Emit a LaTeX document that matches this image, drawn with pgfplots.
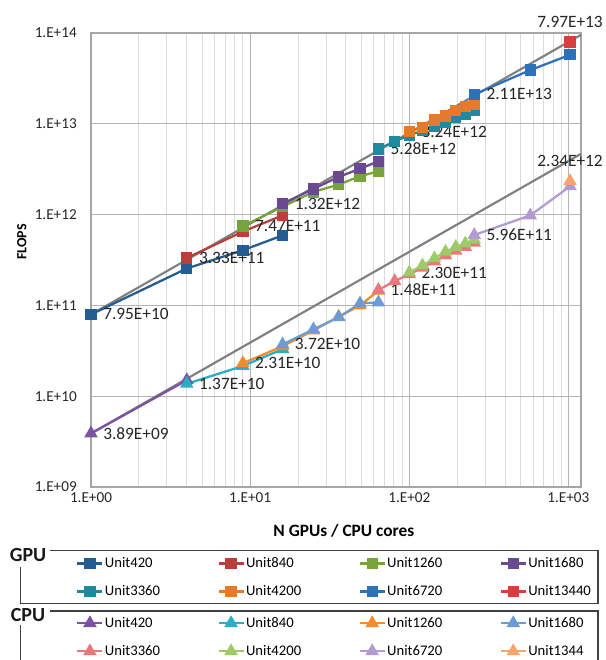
\documentclass[border=0pt]{standalone}
\usepackage{fontspec}
\setmainfont{Carlito}
\usepackage{pgfplots}
\pgfplotsset{compat=1.18}

\definecolor{gA}{HTML}{245D92}
\definecolor{gB}{HTML}{B7403C}
\definecolor{gC}{HTML}{76A33C}
\definecolor{gD}{HTML}{69498F}
\definecolor{gE}{HTML}{1F8A9E}
\definecolor{gF}{HTML}{E57A2B}
\definecolor{gG}{HTML}{2D72B8}
\definecolor{gH}{HTML}{D5403F}
\definecolor{cA}{HTML}{7B52A6}
\definecolor{cB}{HTML}{29AFC5}
\definecolor{cC}{HTML}{F38A2E}
\definecolor{cD}{HTML}{6B9CD3}
\definecolor{cE}{HTML}{E7797A}
\definecolor{cF}{HTML}{9CCB67}
\definecolor{cG}{HTML}{B29BD0}
\definecolor{cH}{HTML}{F9A36F}
\definecolor{gridmaj}{HTML}{B4B4B4}
\definecolor{gridmin}{HTML}{DCDCDC}
\definecolor{axisc}{HTML}{A6A6A6}
\definecolor{framec}{HTML}{404040}
\definecolor{ideal}{HTML}{7F7F7F}

\pgfplotsset{
  gpu/.style={line width=1.7pt, mark=square*, mark size=3.4pt, mark options={solid}},
  cpu/.style={line width=1.7pt, mark=triangle*, mark size=4.2pt, mark options={solid}},
  mylegend/.style={
    legend columns=4,
    legend cell align=left,
    legend style={draw=none, fill=none, inner sep=0pt, row sep=12pt,
      font=\fontsize{11}{14}\selectfont,
      nodes={inner sep=0pt},
      /tikz/every odd column/.append style={column sep=1pt},
      /tikz/every even column/.append style={column sep=43pt}},
    legend image code/.code={\draw[mark repeat=2,mark phase=2] plot coordinates {(0pt,0pt) (9.4pt,0pt) (18.8pt,0pt)};},
  },
  frame/.style={at={(0,0)}, anchor=south west, scale only axis, width=367.5pt, height=340.5pt},
}

\begin{document}
\begin{tikzpicture}[
  lab/.style={font=\fontsize{13}{15}\selectfont, text=black!85, anchor=west, inner sep=0pt, xshift=9pt},
  labup/.style={font=\fontsize{13}{15}\selectfont, text=black!85, anchor=south, inner sep=0pt, yshift=10.5pt}]
\begin{axis}[frame, name=main,
  xmode=log, ymode=log, xmin=1, xmax=1200, ymin=1e9, ymax=1e14,
  xtick={1,10,100,1000}, xticklabels={1.E+00,1.E+01,1.E+02,1.E+03},
  ytick={1e9,1e10,1e11,1e12,1e13,1e14},
  yticklabels={1.E+09,1.E+10,1.E+11,1.E+12,1.E+13,1.E+14},
  minor xtick={2,3,4,5,6,7,8,9,20,30,40,50,60,70,80,90,200,300,400,500,600,700,800,900},
  minor ytick={},
  xmajorgrids, xminorgrids, ymajorgrids,
  major grid style={gridmaj, line width=0.8pt},
  minor grid style={gridmin, line width=0.7pt},
  axis line style={axisc, line width=0.9pt},
  major tick length=0pt, minor tick length=0pt,
  ticklabel style={font=\fontsize{11.4}{13}\selectfont, text=black!85},
  xticklabel style={inner sep=0pt, yshift=-4pt, anchor=north},
  yticklabel style={inner sep=0pt, xshift=-10.5pt, anchor=east},
  xlabel={N GPUs / CPU cores}, ylabel={FLOPS},
  xlabel style={font=\bfseries\fontsize{13}{15}\selectfont, at={(axis description cs:0.516,-0.097)}, anchor=center},
  ylabel style={font=\bfseries\fontsize{10.5}{12}\selectfont, at={(axis description cs:-0.141,0.54)}, anchor=center},
  clip=false,
  mylegend,
  legend style={at={(-0.0306,-0.1993)}, anchor=west},
]
% ideal lines
\addplot[ideal, line width=1.6pt, forget plot] coordinates {(1,7.95e10) (1200,9.54e13)};
\addplot[ideal, line width=1.6pt, forget plot] coordinates {(1,3.89e9) (1200,4.668e12)};
% CPU series
\addplot[cpu, color=cA, forget plot] coordinates {(1,3.89e9) (4,1.5e10)};
\addplot[cpu, color=cB, forget plot] coordinates {(4,1.37e10) (9,2.15e10) (16,3.3e10)};
\addplot[cpu, color=cC, forget plot] coordinates {(9,2.31e10) (16,3.55e10) (25,5.3e10) (36,7.5e10) (49,1.0e11) (64,1.45e11)};
\addplot[cpu, color=cD, forget plot] coordinates {(16,3.72e10) (25,5.45e10) (36,7.4e10) (49,1.05e11) (64,1.08e11)};
\addplot[cpu, color=cE, forget plot] coordinates {(64,1.48e11) (81,1.85e11) (100,2.2e11) (121,2.6e11) (144,3.05e11) (169,3.55e11) (196,4.0e11) (225,4.4e11) (256,4.9e11)};
\addplot[cpu, color=cF, forget plot] coordinates {(100,2.30e11) (121,2.75e11) (144,3.3e11) (169,3.9e11) (196,4.4e11) (225,4.8e11) (256,5.3e11)};
\addplot[cpu, color=cG, forget plot] coordinates {(256,5.96e11) (576,9.8e11) (1024,2.05e12)};
\addplot[cpu, color=cH, forget plot] coordinates {(1024,2.34e12)};
% GPU series
\addplot[gpu, color=gA] coordinates {(1,7.95e10) (4,2.55e11) (9,4.05e11) (16,5.9e11)};
\addlegendentry{Unit420}
\addplot[gpu, color=gB] coordinates {(4,3.33e11) (9,6.5e11) (16,9.8e11)};
\addlegendentry{Unit840}
\addplot[gpu, color=gC] coordinates {(9,7.47e11) (16,1.22e12) (25,1.78e12) (36,2.14e12) (49,2.64e12) (64,3.0e12)};
\addlegendentry{Unit1260}
\addplot[gpu, color=gD] coordinates {(16,1.32e12) (25,1.92e12) (36,2.6e12) (49,3.2e12) (64,3.86e12)};
\addlegendentry{Unit1680}
\addplot[gpu, color=gE] coordinates {(64,5.28e12) (81,6.4e12) (100,7.5e12) (121,8.4e12) (144,9.4e12) (169,1.04e13) (196,1.17e13) (225,1.27e13) (256,1.39e13)};
\addlegendentry{Unit3360}
\addplot[gpu, color=gF] coordinates {(100,8.24e12) (121,9.1e12) (144,1.1e13) (169,1.22e13) (196,1.39e13) (225,1.55e13) (256,1.62e13)};
\addlegendentry{Unit4200}
\addplot[gpu, color=gG] coordinates {(256,2.11e13) (576,3.9e13) (1024,5.75e13)};
\addlegendentry{Unit6720}
\addplot[gpu, color=gH] coordinates {(1024,7.97e13)};
\addlegendentry{Unit13440}
% data labels
\node[lab] at (axis cs:1,7.95e10) {7.95E+10};
\node[lab] at (axis cs:4,3.33e11) {3.33E+11};
\node[lab] at (axis cs:9,7.47e11) {7.47E+11};
\node[lab] at (axis cs:16,1.32e12) {1.32E+12};
\node[lab] at (axis cs:64,5.28e12) {5.28E+12};
\node[lab] at (axis cs:100,8.24e12) {8.24E+12};
\node[lab] at (axis cs:256,2.11e13) {2.11E+13};
\node[labup] at (axis cs:1024,7.97e13) {7.97E+13};
\node[labup] at (axis cs:1024,2.34e12) {2.34E+12};
\node[lab] at (axis cs:256,5.96e11) {5.96E+11};
\node[lab] at (axis cs:100,2.30e11) {2.30E+11};
\node[lab] at (axis cs:64,1.48e11) {1.48E+11};
\node[lab] at (axis cs:16,3.72e10) {3.72E+10};
\node[lab] at (axis cs:9,2.31e10) {2.31E+10};
\node[lab] at (axis cs:4,1.37e10) {1.37E+10};
\node[lab] at (axis cs:1,3.89e9) {3.89E+09};
\end{axis}
% CPU legend
\begin{axis}[frame, hide axis, xmin=0, xmax=1, ymin=0, ymax=1,
  mylegend, legend style={at={(-0.0306,-0.3308)}, anchor=west}]
\addlegendimage{cpu, color=cA}\addlegendentry{Unit420}
\addlegendimage{cpu, color=cB}\addlegendentry{Unit840}
\addlegendimage{cpu, color=cC}\addlegendentry{Unit1260}
\addlegendimage{cpu, color=cD}\addlegendentry{Unit1680}
\addlegendimage{cpu, color=cE}\addlegendentry{Unit3360}
\addlegendimage{cpu, color=cF}\addlegendentry{Unit4200}
\addlegendimage{cpu, color=cG}\addlegendentry{Unit6720}
\addlegendimage{cpu, color=cH}\addlegendentry{Unit1344}
\end{axis}
\begin{scope}[x=0.75pt, y=-0.75pt, shift={(-91,-487)}]
\draw[framec, line width=1.2pt] (50,550.7) -- (598,550.7) -- (598,603.3) -- (20.7,603.3) -- (20.7,566.7);
\draw[framec, line width=1.2pt] (50,611) -- (598,611) -- (598,700);
\draw[framec, line width=1.2pt] (20.7,625) -- (20.7,700);
\node[font=\bfseries\fontsize{15}{17}\selectfont, text=black!90] at (28,555) {GPU};
\node[font=\bfseries\fontsize{15}{17}\selectfont, text=black!90] at (28,615) {CPU};
\pgfresetboundingbox
\useasboundingbox (0,0) rectangle (606,660);
\end{scope}
\end{tikzpicture}
\end{document}
